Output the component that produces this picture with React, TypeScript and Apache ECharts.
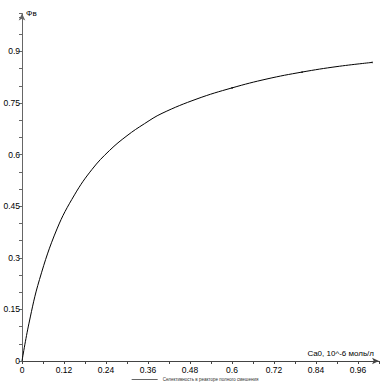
import React, { useEffect, useRef } from "react";
import * as echarts from "echarts";

const xValues = [0, 0.02, 0.05, 0.1, 0.15, 0.2, 0.25, 0.3, 0.35, 0.4, 0.5, 0.6, 0.7, 0.8, 0.9, 1.0];
const yValues = [0, 0.11, 0.237, 0.384, 0.483, 0.557, 0.612, 0.655, 0.69, 0.72, 0.762, 0.794, 0.82, 0.84, 0.856, 0.868];
const markerXs = [0.6, 0.8, 1.0];
const seriesName = "Селективность в реакторе полного смешения";
const xName = "Ca0, 10^-6 моль/л";
const yName = "Φв";

export default function App() {
  const ref = useRef<HTMLDivElement>(null);
  useEffect(() => {
    if (!ref.current) return;
    const chart = echarts.init(ref.current, undefined, { renderer: "svg" });
    const font = "'Liberation Sans', Arial, sans-serif";
    chart.setOption({
      animation: false,
      backgroundColor: "#fff",
      textStyle: { fontFamily: font },
      grid: { left: 22, right: 11, top: 13.6, bottom: 29, containLabel: false },
      legend: {
        bottom: 3,
        left: "center",
        itemWidth: 26,
        itemHeight: 3,
        itemGap: 4,
        icon: "path://M0,1.2L26,1.2L26,1.8L0,1.8Z",
        itemStyle: { color: "#000" },
        textStyle: { fontSize: 4.5, color: "#333", fontFamily: font },
        data: [seriesName],
      },
      xAxis: {
        type: "value",
        min: 0,
        max: 1.02,
        interval: 0.12,
        name: xName,
        nameLocation: "end",
        nameGap: 0,
        nameTextStyle: {
          fontSize: 8,
          color: "#000",
          align: "right",
          verticalAlign: "bottom",
          padding: [0, 5, 4, 0],
          fontFamily: font,
        },
        axisLine: {
          show: true,
          lineStyle: { color: "#444", width: 1 },
          symbol: ["none", "arrow"],
          symbolSize: [5, 7],
        },
        axisTick: { show: true, length: 3, lineStyle: { color: "#444" } },
        minorTick: { show: true, splitNumber: 2, length: 3, lineStyle: { color: "#444" } },
        axisLabel: { fontSize: 8.5, color: "#000", margin: 4, showMaxLabel: false, fontFamily: font },
        splitLine: { show: false },
      },
      yAxis: {
        type: "value",
        min: 0,
        max: 1.01,
        interval: 0.15,
        name: yName,
        nameLocation: "end",
        nameGap: 0,
        nameTextStyle: {
          fontSize: 8,
          color: "#000",
          align: "left",
          verticalAlign: "middle",
          padding: [0, 0, 0, 4],
          fontFamily: font,
        },
        axisLine: {
          show: true,
          lineStyle: { color: "#666", width: 1 },
          symbol: ["none", "arrow"],
          symbolSize: [5, 7],
        },
        axisTick: { show: true, length: 3, lineStyle: { color: "#666" } },
        minorTick: { show: true, splitNumber: 3, length: 3, lineStyle: { color: "#666" } },
        axisLabel: { fontSize: 8.5, color: "#000", margin: 2, showMaxLabel: false, fontFamily: font },
        splitLine: { show: false },
      },
      series: [
        {
          name: seriesName,
          type: "line",
          smooth: 0.4,
          data: xValues.map((x, i) => [x, yValues[i]]),
          symbol: "circle",
          showSymbol: true,
          symbolSize: (v: number[]) => (markerXs.includes(v[0]) ? 1.5 : 0),
          lineStyle: { color: "#000", width: 1 },
          itemStyle: { color: "#000" },
        },
      ],
    });
    return () => chart.dispose();
  }, []);
  return <div ref={ref} style={{ width: 390, height: 390, position: "absolute", left: 0, top: 0 }} />;
}
